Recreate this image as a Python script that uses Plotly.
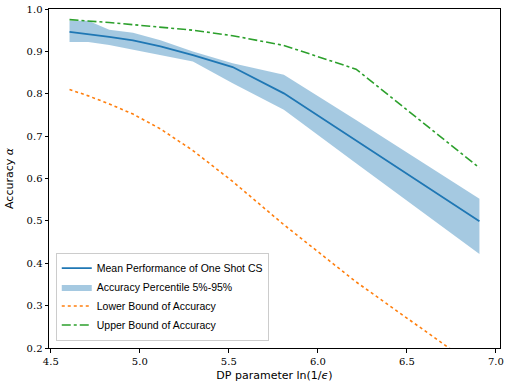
import numpy as np
import plotly.graph_objects as go

# DP parameter ln(1/eps)
eps = [0.01, 0.009, 0.008, 0.007, 0.006, 0.005, 0.004, 0.003, 0.002, 0.001]
x_vals = [float(np.log(1.0 / e)) for e in eps]

mean_perf = [0.946, 0.941, 0.934, 0.926, 0.912, 0.891, 0.863, 0.801, 0.690, 0.499]
pct_upper = [0.972, 0.972, 0.951, 0.944, 0.926, 0.900, 0.872, 0.845, 0.738, 0.552]
pct_lower = [0.922, 0.922, 0.915, 0.904, 0.892, 0.876, 0.825, 0.762, 0.636, 0.422]
lower_bound = [0.810, 0.795, 0.776, 0.752, 0.717, 0.666, 0.593, 0.491, 0.356, 0.149]
upper_bound = [0.975, 0.972, 0.968, 0.963, 0.957, 0.950, 0.937, 0.914, 0.858, 0.625]

x_ticks = [4.5, 5.0, 5.5, 6.0, 6.5, 7.0]
y_ticks = [0.2, 0.3, 0.4, 0.5, 0.6, 0.7, 0.8, 0.9, 1.0]

BLUE = "#1f77b4"
ORANGE = "#ff7f0e"
GREEN = "#2ca02c"

fig = go.Figure()
fig.add_trace(go.Scatter(x=x_vals, y=pct_lower, mode="lines",
                         line=dict(width=0, color=BLUE), showlegend=False,
                         hoverinfo="skip"))
fig.add_trace(go.Scatter(x=x_vals, y=pct_upper, mode="lines",
                         line=dict(width=0, color=BLUE), fill="tonexty",
                         fillcolor="rgba(31,119,180,0.4)",
                         name="Accuracy Percentile 5%-95%", legendrank=2))
fig.add_trace(go.Scatter(x=x_vals, y=mean_perf, mode="lines",
                         line=dict(width=1.8, color=BLUE),
                         name="Mean Performance of One Shot CS", legendrank=1))
fig.add_trace(go.Scatter(x=x_vals, y=lower_bound, mode="lines",
                         line=dict(width=1.6, color=ORANGE, dash="dot"),
                         name="Lower Bound of Accuracy", legendrank=3))
fig.add_trace(go.Scatter(x=x_vals, y=upper_bound, mode="lines",
                         line=dict(width=1.6, color=GREEN, dash="dashdot"),
                         name="Upper Bound of Accuracy", legendrank=4))

tick_font = dict(family="DejaVu Serif", size=10, color="black")
axis_common = dict(showgrid=False, zeroline=False, showline=True, linecolor="black",
                   linewidth=1, mirror=True, ticks="outside", ticklen=3.5,
                   tickwidth=1, tickcolor="black", tickfont=tick_font,
                   tickformat=".1f", ticklabeloverflow="allow")

fig.update_layout(
    width=507, height=392,
    margin=dict(l=49, r=3, t=9, b=44),
    paper_bgcolor="white", plot_bgcolor="white",
    font=dict(family="DejaVu Sans", size=11, color="black"),
    xaxis=dict(range=[4.4899, 7.0233], tickvals=x_ticks,
               title=dict(text="DP parameter ln(1/<i>ϵ</i>)", standoff=5,
                          font=dict(family="DejaVu Sans", size=11)),
               **axis_common),
    yaxis=dict(range=[0.2, 1.0], tickvals=y_ticks,
               title=dict(text="Accuracy <i>α</i>", standoff=10,
                          font=dict(family="DejaVu Sans", size=11)),
               **axis_common),
    legend=dict(x=0.015, y=0.022, xanchor="left", yanchor="bottom",
                traceorder="normal",
                bgcolor="rgba(255,255,255,0.8)", bordercolor="#cccccc",
                borderwidth=1, font=dict(family="Liberation Sans", size=10.5),
                tracegroupgap=0, itemwidth=30),
)

fig.write_html("out.html")
